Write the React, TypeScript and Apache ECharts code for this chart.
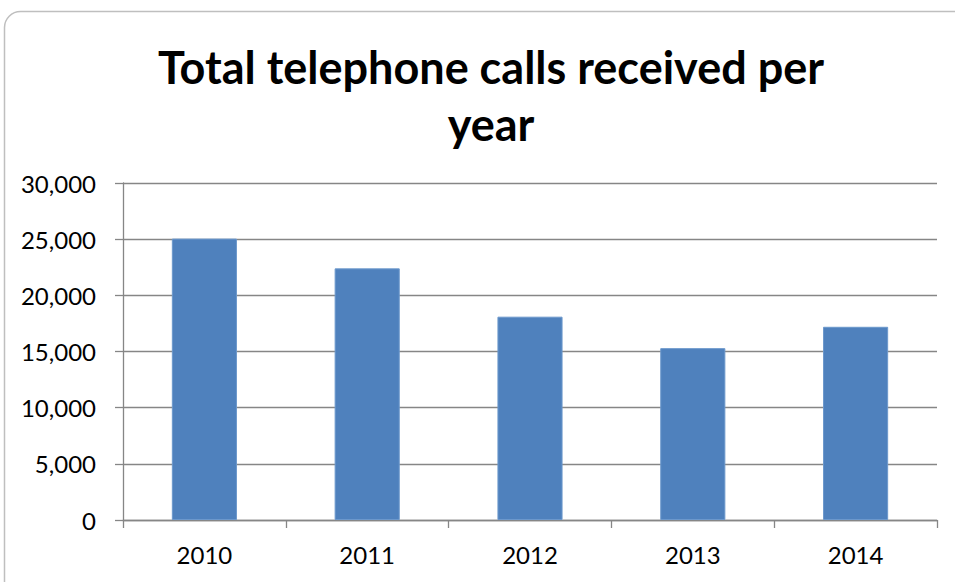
import React, { useEffect, useRef } from "react";
import * as echarts from "echarts";

const categories = ["2010", "2011", "2012", "2013", "2014"];
const callsReceived = [25050, 22400, 18100, 15300, 17200];
const yTicks = { min: 0, max: 30000, interval: 5000 };
const titleText = "Total telephone calls received per\nyear";

export default function App() {
  const ref = useRef<HTMLDivElement>(null);
  useEffect(() => {
    if (!ref.current) return;
    const chart = echarts.init(ref.current, null, { renderer: "svg" });
    chart.setOption({
      animation: false,
      backgroundColor: "#ffffff",
      title: {
        text: titleText,
        left: 486,
        top: 33,
        textAlign: "center",
        textStyle: {
          fontFamily: "Lato",
          fontWeight: "bold",
          fontSize: 45,
          lineHeight: 57,
          color: "#000000",
        },
      },
      graphic: [
        {
          type: "rect",
          shape: { x: 4.5, y: 11.5, width: 980, height: 620, r: 16 },
          style: { fill: "none", stroke: "#bfbfbf", lineWidth: 1.5 },
          silent: true,
          z: -1,
        },
      ],
      grid: { left: 123, right: 18, top: 183, bottom: 62 },
      xAxis: {
        type: "category",
        data: categories,
        axisLine: { lineStyle: { color: "#868686", width: 1.3 } },
        axisTick: { show: true, length: 8, lineStyle: { color: "#868686", width: 1.3 } },
        axisLabel: {
          fontFamily: "Lato",
          fontSize: 24,
          color: "#000000",
          margin: 22,
        },
      },
      yAxis: {
        type: "value",
        min: yTicks.min,
        max: yTicks.max,
        interval: yTicks.interval,
        axisLine: { show: true, lineStyle: { color: "#868686", width: 1.3 } },
        axisTick: { show: true, length: 8, lineStyle: { color: "#868686", width: 1.3 } },
        splitLine: { show: true, lineStyle: { color: "#868686", width: 1.3 } },
        axisLabel: {
          fontFamily: "Lato",
          fontSize: 24,
          color: "#000000",
          margin: 27,
          formatter: (v: number) => v.toLocaleString("en-US"),
        },
      },
      series: [
        {
          type: "bar",
          data: callsReceived,
          barCategoryGap: "60%",
          itemStyle: { color: "#4f81bd", borderColor: "#6c98cc", borderWidth: 1 },
        },
      ],
    });
    return () => chart.dispose();
  }, []);
  return (
    <div
      ref={ref}
      style={{ position: "fixed", left: 0, top: 0, width: 955, height: 582 }}
    />
  );
}
